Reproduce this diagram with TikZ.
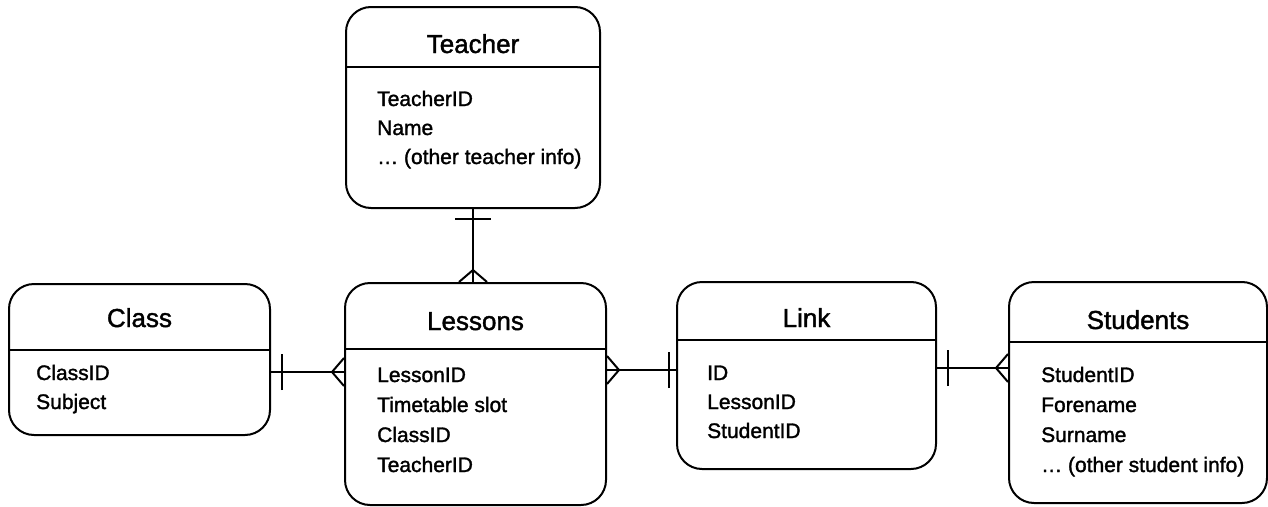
\documentclass[tikz,border=0pt]{standalone}
\usepackage{fontspec}
\setmainfont{Liberation Sans}[RawFeature={embolden=1.5}]
\usepackage{tikz}
\usetikzlibrary{calc}
\usetikzlibrary{decorations.markings}
\tikzset{
	entity/.style={draw, line width=2pt, rounded corners=25pt, inner sep=0pt},
	title/.style={anchor=base, inner sep=0pt, font=\fontsize{26}{30}\selectfont},
	field/.style={anchor=base west, inner sep=0pt, font=\fontsize{21}{25}\selectfont},
	rel/.style={line width=2pt},
	onebar/.style={postaction={decorate, decoration={markings,
		mark=at position #1 with {\draw[line width=2pt] (0,-18pt) -- (0,18pt);}}}},
	crowend/.style={postaction={decorate, decoration={markings,
		mark=at position -12pt with {\draw[line width=2pt] (12pt,14pt) -- (0,0) -- (12pt,-14pt);}}}},
	crowstart/.style={postaction={decorate, decoration={markings,
		mark=at position 12pt with {\draw[line width=2pt] (-12pt,14pt) -- (0,0) -- (-12pt,-14pt);}}}},
}

\begin{document}
\begin{tikzpicture}[x=1pt, y=-1pt]
	\useasboundingbox (0,0) rectangle (1268,506);

	% Teacher
	\node[entity, minimum width=254pt, minimum height=201pt] (teacher) at (473,107.5) {};
	\node[title] (teacher-t) at (teacher |- 0,53) {Teacher};
	\draw[line width=2pt] (teacher.west |- 0,67) -- (teacher.east |- 0,67);
	\foreach \f [count=\i] in {TeacherID, Name, … (other teacher info)}
		\node[field] (teacher-f\i) at (377, 77+29*\i) {\f};

	% Class
	\node[entity, minimum width=261pt, minimum height=151pt] (class) at (139.5,359.5) {};
	\node[title] (class-t) at (class |- 0,327) {Class};
	\draw[line width=2pt] (class.west |- 0,350) -- (class.east |- 0,350);
	\foreach \f [count=\i] in {ClassID, Subject}
		\node[field] (class-f\i) at (36, 351+29*\i) {\f};

	% Lessons
	\node[entity, minimum width=261pt, minimum height=222pt] (lessons) at (475.5,394) {};
	\node[title] (lessons-t) at (lessons |- 0,330) {Lessons};
	\draw[line width=2pt] (lessons.west |- 0,349) -- (lessons.east |- 0,349);
	\foreach \f [count=\i] in {LessonID, Timetable slot, ClassID, TeacherID}
		\node[field] (lessons-f\i) at (377, 352+30*\i) {\f};

	% Link
	\node[entity, minimum width=259pt, minimum height=187pt] (link) at (806.5,375.5) {};
	\node[title] (link-t) at (link |- 0,327) {Link};
	\draw[line width=2pt] (link.west |- 0,340) -- (link.east |- 0,340);
	\foreach \f [count=\i] in {ID, LessonID, StudentID}
		\node[field] (link-f\i) at (707, 351+29*\i) {\f};

	% Students
	\node[entity, minimum width=258pt, minimum height=221pt] (students) at (1138,392.5) {};
	\node[title] (students-t) at (students |- 0,329) {Students};
	\draw[line width=2pt] (students.west |- 0,342) -- (students.east |- 0,342);
	\foreach \f [count=\i] in {StudentID, Forename, Surname, … (other student info)}
		\node[field] (students-f\i) at (1041, 352+30*\i) {\f};

	% relationships
	\draw[rel, onebar=10pt, crowend] (teacher.south) -- (teacher.south |- lessons.north);
	\draw[rel, onebar=11pt, crowend] (class.east |- 0,372) -- (lessons.west |- 0,372);
	\draw[rel, crowstart, onebar=-7pt] (lessons.east |- 0,370) -- (link.west |- 0,370);
	\draw[rel, onebar=11pt, crowend] (link.east |- 0,368) -- (students.west |- 0,368);
\end{tikzpicture}
\end{document}
